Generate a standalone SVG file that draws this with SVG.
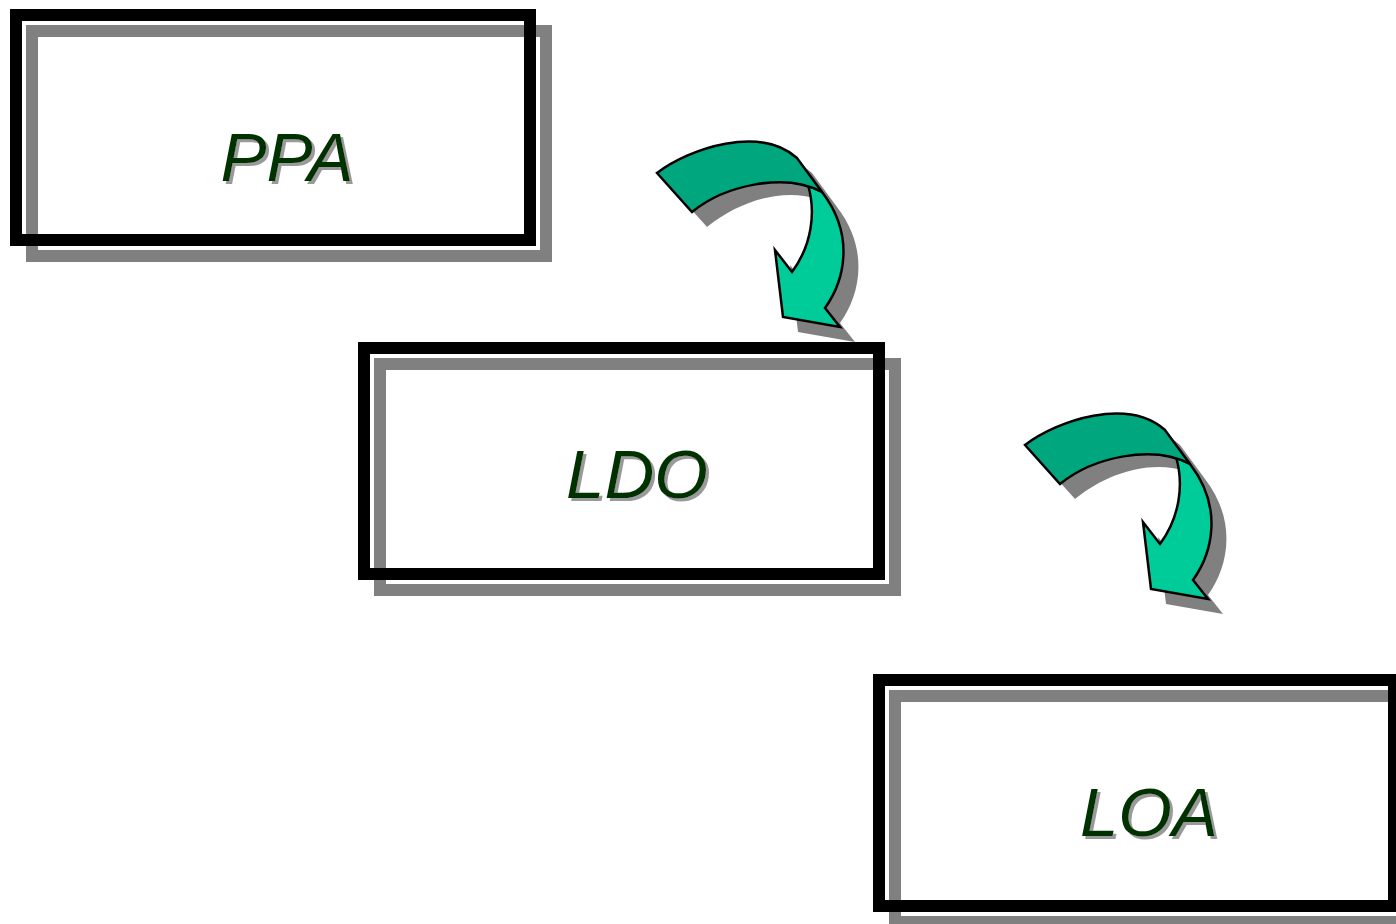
<svg xmlns="http://www.w3.org/2000/svg" xmlns:xlink="http://www.w3.org/1999/xlink" width="1396" height="924" viewBox="0 0 1396 924">
<style>
.box{fill:none;stroke:#000;stroke-width:12}
.shadow{fill:none;stroke:#808080;stroke-width:12}
.lbl{font-family:"Liberation Sans",Arial,sans-serif;font-style:italic;font-size:69px;text-anchor:middle;fill:#003300;filter:url(#tshadow)}
.ash{fill:#808080}
.light{fill:#00CC99;stroke:#000;stroke-width:2.5;stroke-linejoin:miter}
.dark{fill:#00A67D;stroke:#000;stroke-width:2.5;stroke-linejoin:miter}
</style>
<defs>
<filter id="tshadow" x="-10%" y="-20%" width="130%" height="150%">
<feOffset in="SourceAlpha" dx="3" dy="3" result="off"/>
<feFlood flood-color="#9a9a9a"/>
<feComposite in2="off" operator="in" result="sh"/>
<feMerge><feMergeNode in="sh"/><feMergeNode in="SourceGraphic"/></feMerge>
</filter>
<g id="arrow">
<path class="ash" transform="translate(15,15)" d="M657,173 C690,148 760,125 797,158 L822,192 C855,235 845,280 825,308 L840,327 L783,317 L775,250 L792,272 C812,245 816,212 805,185 C770,172 725,185 692,212 Z"/>
<path class="light" d="M808,185 C816,212 812,245 792,272 L775,250 L783,317 L840,327 L825,308 C845,280 855,235 822,192 Z"/>
<path class="dark" d="M657,173 C690,148 760,125 797,158 L822,192 C785,172 725,185 692,212 Z"/>
</g>
</defs>
<g id="ppa">
<rect class="shadow" x="32" y="31" width="514" height="225"/>
<rect class="box" x="16" y="15" width="514" height="225"/>
<text class="lbl" x="287" y="181">PPA</text>
</g>
<g id="ldo">
<rect class="shadow" x="380" y="364" width="515" height="226"/>
<rect class="box" x="364" y="348" width="515" height="226"/>
<text class="lbl" x="637" y="498">LDO</text>
</g>
<g id="loa">
<rect class="shadow" x="895" y="696" width="515" height="226"/>
<rect class="box" x="879" y="680" width="515" height="226"/>
<text class="lbl" x="1149" y="836">LOA</text>
</g>
<g id="connectors">
<use xlink:href="#arrow"/>
<use xlink:href="#arrow" transform="translate(368,272)"/>
</g>
</svg>
